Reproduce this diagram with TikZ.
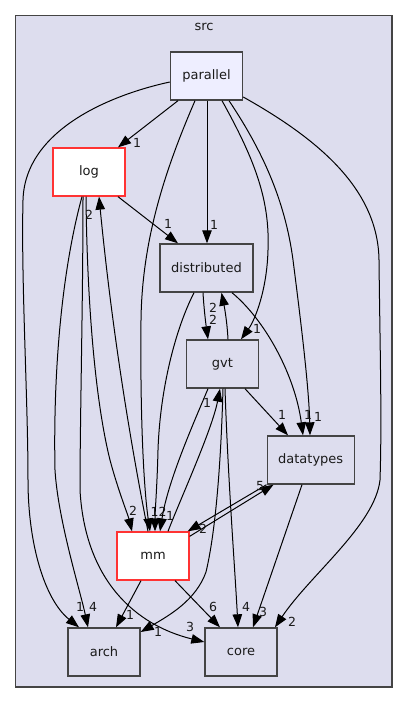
\documentclass[tikz,border=0pt]{standalone}
\usepackage{fontspec}
\setmainfont{DejaVu Sans}
\usetikzlibrary{arrows.meta}
\definecolor{clusterfill}{HTML}{DDDDEE}
\definecolor{clusterline}{HTML}{444444}
\definecolor{parfill}{HTML}{EEEEFF}
\definecolor{txt}{HTML}{1A1A1A}
\begin{document}
\begin{tikzpicture}[x=1pt,y=-1pt,
  dirbox/.style={draw=clusterline, line width=1.4pt, fill=clusterfill, minimum height=48pt,
    minimum width=72pt, inner sep=0pt, text=txt, font=\fontsize{13}{15}\selectfont},
  topbox/.style={dirbox, fill=parfill},
  redbox/.style={dirbox, draw=red!80!white, line width=1.3pt, fill=white},
  dep/.style={draw=black, line width=1pt, -{Triangle[length=13pt,width=9.5pt]}},
  lbl/.style={font=\fontsize{12.5}{13}\selectfont, text=txt, inner sep=0pt}
]
\useasboundingbox (0,0) rectangle (408,703);
\fill[white] (0,0) rectangle (408,703);
\draw[draw=clusterline, line width=1.4pt, fill=clusterfill] (15.5,15.5) rectangle (392,687);
\node[lbl, font=\fontsize{13}{15}\selectfont] (srclabel) at (204,27) {src};

\node[topbox] (parallel) at (206.5,76) {parallel};
\node[redbox] (log) at (89,172) {log};
\node[dirbox, minimum width=93pt] (distributed) at (206.5,268) {distributed};
\node[dirbox] (gvt) at (222.5,364) {gvt};
\node[dirbox, minimum width=87pt] (datatypes) at (310.7,460) {datatypes};
\node[redbox] (mm) at (153,556) {mm};
\node[dirbox] (arch) at (104,652) {arch};
\node[dirbox] (core) at (241,652) {core};

% parallel
\draw[dep] ([xshift=-28.5pt]parallel.south) -- ([xshift=29pt]log.north)
  node[lbl] at (137,143) {1};
\draw[dep] ([xshift=0.5pt]parallel.south) -- ([xshift=0.5pt]distributed.north)
  node[lbl] at (214,225) {1};
\draw[dep] ([xshift=15.5pt]parallel.south) .. controls (255,160) and (270,200) .. (268,250)
  .. controls (267,290) and (255,320) .. ([xshift=18.5pt]gvt.north)
  node[lbl] at (257,329) {1};
\draw[dep] ([xshift=22.5pt]parallel.south) .. controls (262,150) and (285,200) .. (293,260)
  .. controls (302,330) and (309,390) .. ([xshift=-0.7pt]datatypes.north)
  node[lbl] at (318,417) {1};
\draw[dep] ([xshift=-11.5pt]parallel.south) .. controls (165,170) and (142,240) .. (141,320)
  .. controls (140,420) and (144,490) .. ([xshift=-3pt]mm.north)
  node[lbl] at (154.5,512) {1};
\draw[dep] ([yshift=-6pt]parallel.west) .. controls (110,95) and (25,130) .. (23,200)
  .. controls (21,280) and (28,400) .. (28,480)
  .. controls (28,545) and (45,600) .. ([xshift=-25pt]arch.north)
  node[lbl] at (80,607) {1};
\draw[dep] ([yshift=-21pt]parallel.east) .. controls (320,140) and (378,190) .. (379,260)
  .. controls (380,350) and (382,420) .. (380,480)
  .. controls (375,525) and (310,575) .. ([xshift=34pt]core.north)
  node[lbl] at (292,622) {2};

% log
\draw[dep] ([xshift=29pt]log.south) -- ([xshift=-28.5pt]distributed.north)
  node[lbl] at (168,224) {1};
\draw[dep] ([xshift=-7pt]log.south) .. controls (62,270) and (53,370) .. (55,470)
  .. controls (58,520) and (80,590) .. ([xshift=-16pt]arch.north)
  node[lbl] at (93,607) {4};
\draw[dep] ([xshift=-6pt]log.south) .. controls (83,300) and (80,420) .. (80,490)
  .. controls (85,580) and (135,625) .. ([yshift=10pt]core.west)
  node[lbl] at (190,627) {3};
\draw[dep] ([xshift=-3pt]log.south) .. controls (87,300) and (95,400) .. (110,460)
  .. controls (118,490) and (128,515) .. ([xshift=-21pt]mm.north)
  node[lbl] at (133,511) {2};

% distributed
\draw[dep] ([xshift=-3.5pt]distributed.south) .. controls (204,310) and (206,325) .. ([xshift=-14.5pt]gvt.north)
  node[lbl] at (213,320) {2};
\draw[dep] ([xshift=25.5pt]distributed.south) .. controls (265,320) and (295,375) .. ([xshift=-7.7pt]datatypes.north)
  node[lbl] at (308,415) {1};
\draw[dep] ([xshift=-12.5pt]distributed.south) .. controls (175,330) and (160,390) .. (158,450)
  .. controls (157,490) and (155,510) .. ([xshift=2pt]mm.north)
  node[lbl] at (162.5,512) {2};

% gvt
\draw[dep] ([xshift=5.5pt]gvt.north) .. controls (227,320) and (224,305) .. ([xshift=15pt]distributed.south)
  node[lbl] at (213,308) {2};
\draw[dep] ([xshift=22.5pt]gvt.south) -- ([xshift=-22.7pt]datatypes.north)
  node[lbl] at (282,415) {1};
\draw[dep] ([xshift=-14.5pt]gvt.south) .. controls (195,420) and (168,480) .. ([xshift=7pt]mm.north)
  node[lbl] at (170,516) {1};
\draw[dep] ([xshift=0.5pt]gvt.south) .. controls (221,460) and (216,530) .. (206,572)
  .. controls (196,600) and (170,615) .. ([yshift=20pt]arch.east)
  node[lbl] at (158,632) {1};
\draw[dep] ([xshift=2.5pt]gvt.south) .. controls (228,480) and (235,570) .. ([xshift=-3pt]core.north)
  node[lbl] at (246,607) {4};

% datatypes
\draw[dep] (datatypes.south west) -- ([xshift=-2pt]mm.north east)
  node[lbl] at (203,529) {2};
\draw[dep] ([xshift=-8.7pt]datatypes.south) -- ([xshift=12pt]core.north)
  node[lbl] at (263,612) {3};

% mm
\draw[dep] ([xshift=-5pt]mm.north) .. controls (130,440) and (112,330) .. ([xshift=10pt]log.south)
  node[lbl] at (89,215) {2};
\draw[dep] ([xshift=15pt]mm.north) .. controls (180,500) and (212,430) .. ([xshift=-2.5pt]gvt.south)
  node[lbl] at (207,403) {1};
\draw[dep] ([yshift=-5pt]mm.north east) -- ([xshift=7pt]datatypes.south west)
  node[lbl] at (260,486) {5};
\draw[dep] ([xshift=-12pt]mm.south) -- ([xshift=12pt]arch.north)
  node[lbl] at (130,615) {1};
\draw[dep] ([xshift=22pt]mm.south) -- ([xshift=-21pt]core.north)
  node[lbl] at (213,607) {6};
\end{tikzpicture}
\end{document}
